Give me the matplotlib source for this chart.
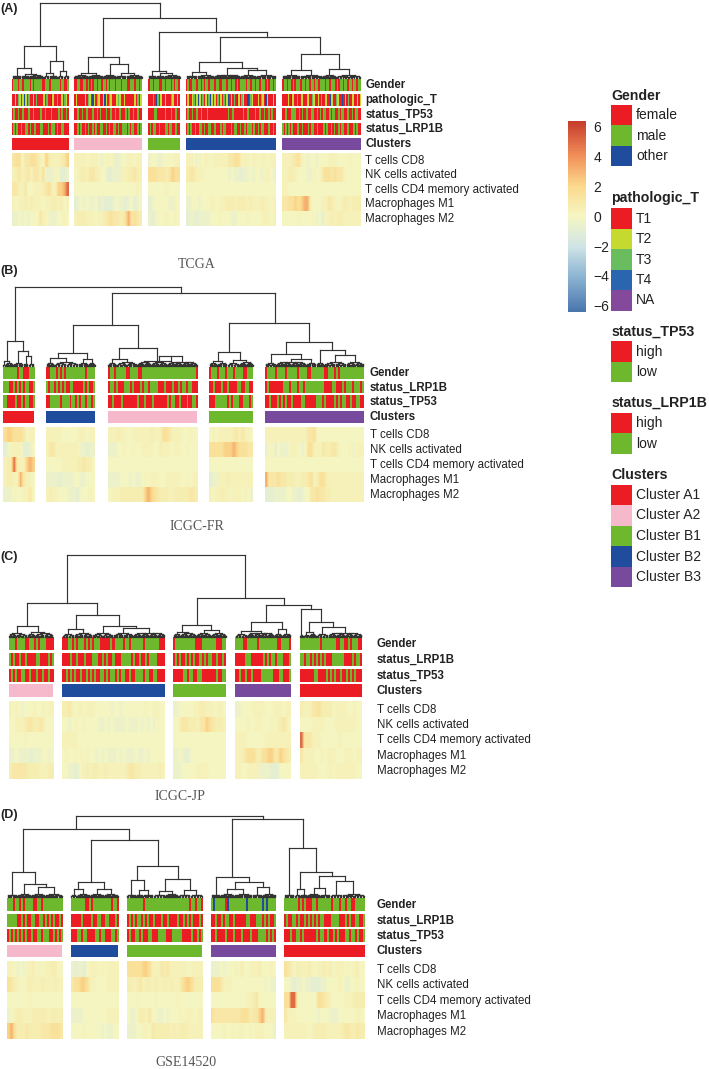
import numpy as np
import matplotlib; matplotlib.use('Agg')
import matplotlib.pyplot as plt
from matplotlib.colors import LinearSegmentedColormap, Normalize, to_rgb
from matplotlib.colorbar import ColorbarBase
from matplotlib.collections import LineCollection
from matplotlib.patches import Rectangle

plt.rcParams['font.family'] = ['Liberation Sans', 'DejaVu Sans']

# ── DATA ─────────────────────────────────────────────────────
HEAT_ROWS = ['T cells CD8', 'NK cells activated', 'T cells CD4 memory activated',
             'Macrophages M1', 'Macrophages M2']
# heat digits -> expression z score, annotation letters -> colour
HEAT_LEVELS = [-0.9, -0.5, 0.0, 0.3, 0.6, 1.0, 1.45, 2.2, 3.1, 5.0]

A_CLUSTERS = ['Cluster A1', 'Cluster A2', 'Cluster B1', 'Cluster B2', 'Cluster B3']
B_CLUSTERS = ['Cluster A1', 'Cluster B2', 'Cluster A2', 'Cluster B1', 'Cluster B3']
C_CLUSTERS = ['Cluster A2', 'Cluster B2', 'Cluster B1', 'Cluster B3', 'Cluster A1']
D_CLUSTERS = ['Cluster A2', 'Cluster B2', 'Cluster B1', 'Cluster B3', 'Cluster A1']

A_GENDER = ['RGGGRGGRGGGGRGRGGGGGRRGGGRGGGGGGRGGRRG',
            'RRGGRRGGRGRGRGGRGGRGGRGRGGGRGGGRGGGRRGGGRGGRG',
            'RGGRGGGRRGGRGGGRGRGGR',
            'RGRRGGGRGGRGRGGRGGGRGGRRGGGRGGRGGRGRGGGGRGGRGGRGGRGGGRGRGGRG',
            'RGGRGGRGRGGGRGGRGGRGGRGGRGGGRGGRGGGRGRGGRGGRGGRGGRGG']
A_PATHT = ['RRYRgYRYBYRgRRYRgRRRRYRgRRBYRRgRRYRgYR',
           'RYRRRRRYRgYRBYRgYRRYBYRgYRRRYgYRRYRRRRRRYRgRY',
           'RRRgRBgRYRRYRRRgYRRYR',
           'RYRRYgRYBYRgRYRgBYRYRgRYRgRYBRYRgRBYRgYRRBRgYRRRYRgYRBYRRRYR',
           'RRRRYRBYRRgRRYRRRYRRgYRRYRgRRYRRBYRRgYRRBRYRgRRYRRYRY']
A_TP53 = ['RGRRGRRGRRRGRRGRRRRGRRGRRRGRRRRGRGRRGR',
          'RRGRRGRRGRRRGRRGRGRRRGRRGRRGRRGRRRGRGRRGRRGRR',
          'RRRRGGRRRRRGRRRGRRGRR',
          'RGRRGRRGRRGRRRGRRRRRRRRRRRRRGRRGRRRRRRGRRGRRRRGRRGRRGRRGRGRR',
          'RRGRRRGGGRRGRGRRGRRGGRRGRGRGGRRGRGGRRGRGGRRGRRGRGGRR']
A_LRP1B = ['RGRGRRGRRGGRGRRGRRRGGRRRGRGGGRGRRGGRRR',
           'RRGRGRRGRGRRGRGRRGGRRGRGRRGGRGRRGGGRGRGGRRGRG',
           'RGRGGRRGRRRGGRGGRRGRR',
           'RGRGRRGRRGGRGRRGGRRGRRRGRGGRRRGRGGRRGRRGRGGGRGRRGRGGRRRGRRGR',
           'GRGRGRGRRRGRRGRRRGRGGRRGRRRGRGRRGRGRRGRGGRRGRRRGRGRR']
A_HEAT = [['5662556653274333457', '3453453553611132001', '5533522333456337789',
           '3233434333233443423', '1121212225331112232'],
          ['33332333212323012233233', '23443554322001113344543', '22222222222222222222232',
           '01212112010001211012012', '34443332334565544685654'],
          ['12211222233', '66655545766', '22222232222', '01222221132', '10122232232'],
          ['333132332333335566333233233233', '455333222222221211011212213321',
           '222222222222222222222222222222', '113212223323344434443433343323',
           '011011112223222112223222233323'],
          ['33345632122122233322223222', '33443222113225665655322222',
           '33222222222222222222222222', '55667678832223354323443444',
           '22222322223120334344333333']]

B_GENDER = ['GGGGGGGRGGRRRGGG', 'RRGGGRGRGRGGGGGGGGGGRGGGG',
            'RGGRGGGGGRRGGGGRRGGGGGGGGGGGGGGGGGGGGGGGGGGGR',
            'RGGGRGGGRGGGRGGGGRRGGG',
            'RGGGGRGGGGRGGGGGRGGGGRRGGGGGGRRGGGRGRGGGGGGGGGGGG']
B_LRP1B = ['GGGRRGRGRGRGGRRG', 'GRGGRGRGRGRRGGRRRRRGRGRRG',
           'RGGRGRRRGGGRGRRRGRGGRGGGGRRRGRRRGRRGRGGRGGRRR',
           'RRGRRRGRRGRRRRGGRRGGRR',
           'RGRRRRRRRGGGRGGGRGGRGGGGGGGGGRRRRGGRRRGRGGGRGGGRG']
B_TP53 = ['GGRRRRGRRGRGGRRG', 'RRGGGGGRGGGGRGGRGRGGRGGRG',
          'RRGRRRRGRRRRRRRGRRRGRRRGRRRRRRRGRGGRRGRRRGRRGGR',
          'RRRGGGGGGRGRGGGRRGGGRG',
          'RRGRRRGRGRGRRGRRRRGGRRRRRGGGRGRRRRGRGRGGRRGRRGGRR']
B_HEAT = [['6776665233', '0133330012', '3449433787', '3443385332', '1113223352'],
          ['3333322222333233', '3553333333311011', '2222233333445442',
           '1111011112211222', '3433222111022232'],
          ['333433223333334333665333322322', '111223223223333224333233223222',
           '222222222222222222222222222222', '111122212112323332233333223233',
           '233344444444787654443344444554'],
          ['232333334535332', '666667778766655', '222222222222222',
           '011333433333333', '323343323332321'],
          ['333333333333335562222222222222222', '123021113332126633354455322231333',
           '222222222222222222222222222222222', '855565544433445634664333333333333',
           '000111122110122556554433333333333']]

C_GENDER = ['GGGRGGGGRRGGRGRGGGRRRR',
            'RRRGGRGRGGGRGRGRGGGRRRRRGRGGGGRGGRGGGGGGRGGGGGGGRRR',
            'RGGGGGGGGGGRRRGGGGGGGRRRGG', 'GGGGRRGGGGGRGGGGGGGGGRRGGGGR',
            'GGGGGGGGGGRGGGGGGGRRGGRRGRGGGRR']
C_LRP1B = ['GRGRRGRRGRRRRGGRRRRGRG',
           'RRRRGRRGRRRGRRRGGGRRGRGRRGRRRGGGGGRGRRGRRGRGGGGRRRR',
           'RGRGRRGRGRGRRGRGRGGRRGRRGR', 'RRRRRGGGRRRRRRGRGRGGRGGGRRRG',
           'GGRGGRGRGRGRGRRRGGGGGGRRRRGRGGR']
C_TP53 = ['RGRGRRGGRRGRRGRRGRRGRR',
          'RRGRGRGRRGRRGRGRGRRGGRGRGGRGRGGRRGRRGGGGRGGRRGGRRRR',
          'RRRRRGGRGGRRGGRRRRRRRGRRGG', 'RRGRRGRRGRRRRGGGGGGRRRGGRRRG',
          'RRRRRRRGGRRRRGRGRGRRGRRGRGRGRRR']
C_HEAT = [['323212223223233', '223334554454222', '222223222222222',
           '112111101112212', '455555444433344'],
          ['4453233233322222122122222223223322', '2212322322221121211112111212121322',
           '3333322222222222222222222222222222', '2322323232212121112121112112122222',
           '2211013343443343333334554433333343'],
          ['112222233443332332', '224554443557654443', '222222222222222222',
           '112101222222222222', '111222223333222222'],
          ['1122223333222333233', '2222322332223234542', '3333222222333333333',
           '3335666446677557654', '3322333311110002222'],
          ['433355644442333322322', '222233332222333333322', '955533322222232222222',
           '533332232333222333233', '333333222332333333322']]

D_GENDER = ['GGGRGGRGRGGGGRRGGRGGGGGGGGGG', 'GGGGGGGRRGRGGGGGGGGGRGGR',
            'GGGGGGGGRGGGGGGGGGGGGGGGGGGGGGGRGGRGGR',
            'GBGGGGGRBGGGGGGGGBGGGGGGGBGBGGGG',
            'GGGGGGGRGRGRRRGGRGGGGGGRGGGRGGRGGRRGGGGG']
D_LRP1B = ['GGGGGRRGRGRRGGRRGGRGRGRGRRGR', 'RRRRRGRRRRGRRGGRRGGRRRGR',
           'RGRGRGGRGRGRRGRRRGRRGRRRRGRRGRGRGRRRGR',
           'RRGRRGRGGRRGRRRRRGGRRRGGGRGRGRRG',
           'RGRRGGRGRRGRGRGRGRGGRRRGGGGRRRGRGRRGGRRG']
D_TP53 = ['RGRGRGRGRGRRGRRGGRGGGRRGRGRG', 'RRRGGRGGRRRRGGRGGRRRGGRG',
          'RGRRGGRGRRRGGRRRGGGGRRRGGGGGRRRRRGRRGRG',
          'RRGRRRRGRRRGRRRGRRRGRRRGGGGRGRGR',
          'RRRGRRGGRGRRRRRRGRGGRGRRGRGRRRGGRGGRGRRG']
D_HEAT = [['332121334232334422', '654322343334333433', '222222232222222222',
           '123443334444434434', '786444544445556665'],
          ['1011023332323333', '5667763322223333', '2222222222222222',
           '1111222222223333', '2222322222121122'],
          ['6666677633354533333323333', '4434534434334343346776444',
           '2223222223222222322222222', '2113443522112122232333233',
           '1112233254444434344433333'],
          ['1112122232422333422232', '6665333222222222221211', '2222222222223345222222',
           '6555555555666455784333', '2222322323322323332221'],
          ['654243334323343423332323422', '221011211000112222331122322',
           '669932222226654322223334444', '533322222221222111222222332',
           '333333332344443333345544544']]

# dendrograms: (merge height, left, right); in the *_TREES a bare number is the
# width of a small tip cluster, in *_TOP a bare number is the cluster index
A_TREES = [(32, (10, 9, (4, 8, 14)), (17, (5, 6, 8), (7, 6, 6))),
           (21, (5, 14, 15), (14, 13, (5.5, 10, 16))),
           (7, 8, (5, 8, 16)),
           (16, (6.5, 11, 17), (10.5, (3, 13, 13), (8, 16, 20))),
           (24, (8, 18, 22), (9, 14, 25))]
A_TOP = (75.5, 0, (60, 1, (46, 2, (41, 3, 4))))
B_TREES = [(24.5, (4.5, 3, 7.5), (15, 10, (9.5, 5, 6))),
           (13, (7.5, 8, 24), (7, 10, 7)),
           (17.5, (7, 9, 20.5), (5, 14, (9.5, 16, 30))),
           (14, (5, 8, 10), (5.5, 12, 14)),
           (23.5, (12, 11, (7, 30, 10)), (15.5, 8, (10.5, 22, 17.7)))]
B_TOP = (79, 0, (73, (41, 1, 2), (42.5, 3, 4)))
C_TREES = [(11, (4, 7, 11.3), (4.5, 8, 18)),
           (22, (8, 12, 18), (10.5, 21, (8.5, 20, 31.7))),
           (12, (5, 7, 15.7), (7, 15, 15)),
           (15, (6, 12, 27), (7.5, 8, 8.7)),
           (28, 3.6, (15, (5, 6, 6.7), (10, 12, 33.7)))]
C_TOP = (81.5, (33.5, 0, 1), (38.5, 2, (32, 3, 4)))
D_TREES = [(25, 10, (12.7, 14, (9.7, 14, 17.3))),
           (15, (8, 6, 13), (8, 14, 14.3)),
           (30.7, (17, 9, (7, 7, 10.3)), (18.3, (6, 12, 13), (7, 12, 12.3))),
           (19.7, 9, (15, (8, 14, 18), (10, 10, 13.7))),
           (48.7, 10, (24.7, (8, 6, 7), (21, (9, 13, 10), (16, 12, 22.7))))]
D_TOP = (81, (68, 0, (57.3, 1, 2)), (78.3, 3, 4))

GENDER_NAMES = ['female', 'male', 'other']
PATHT_NAMES = ['T1', 'T2', 'T3', 'T4', 'NA']
STATUS_NAMES = ['high', 'low']
CLUSTER_NAMES = ['Cluster A1', 'Cluster A2', 'Cluster B1', 'Cluster B2', 'Cluster B3']
CBAR_TICKS = [-6, -4, -2, 0, 2, 4, 6]

# ── STYLE ────────────────────────────────────────────────────
RED, GREEN, BLUE = '#ec1c24', '#6db82c', '#1f4c9c'
LETTERS = {'R': RED, 'G': GREEN, 'B': BLUE, 'Y': '#c6d92e', 'g': '#6abd5e', 'N': '#84499b'}
T4_BLUE = '#2a66b0'
CLUSTER_COL = {'Cluster A1': RED, 'Cluster A2': '#f6b9cb', 'Cluster B1': GREEN,
               'Cluster B2': BLUE, 'Cluster B3': '#784a9e'}
CMAP = LinearSegmentedColormap.from_list('heat', [
    (0.0, '#4a76ae'), (0.19, '#8fb6d3'), (0.34, '#cfe4e6'), (0.5, '#f5f6c2'),
    (0.66, '#fbd98c'), (0.81, '#f2935a'), (1.0, '#c63a2c')])
NORM = Normalize(-6.4, 6.4)
LINE = '#333333'
TXT = '#222222'

fig = plt.figure(figsize=(7.09, 10.69), dpi=100)
ax = fig.add_axes([0, 0, 1, 1])
ax.axis('off')


def strip(x0, x1, y0, y1, code):
    rgb = np.array([[to_rgb(LETTERS[c]) for c in code]])
    ax.imshow(rgb, extent=(x0, x1, y1, y0), aspect='auto', interpolation='nearest')


def heat_cell(x0, x1, y0, y1, code):
    vals = np.array([[HEAT_LEVELS[int(c)] for c in code]])
    ax.imshow(vals, extent=(x0, x1, y1, y0), aspect='auto', cmap=CMAP, norm=NORM,
              interpolation='bilinear')


def draw_tree(top, trees, groups, base):
    """Dendrogram: node x is the mean of its children in sample space, then the
    sample position is mapped to pixels with the gaps between clusters."""
    widths = [g[1] - g[0] for g in groups]
    starts = np.concatenate([[0], np.cumsum(widths)])
    segs = []

    def to_x(s):
        i = min(np.searchsorted(starts, s, side='right') - 1, len(groups) - 1)
        return groups[i][0] + (s - starts[i])

    def merge(h, a, b):
        xa, xb = to_x(a[0]), to_x(b[0])
        segs.append([(xa, base - a[1]), (xa, base - h)])
        segs.append([(xb, base - b[1]), (xb, base - h)])
        segs.append([(xa, base - h), (xb, base - h)])
        return (a[0] + b[0]) / 2, h

    def comb(s0, w):
        # tips of a small cluster, too fine to read one by one
        if w < 1.6:
            return s0 + w / 2, 0.0
        a, b = comb(s0, w / 2), comb(s0 + w / 2, w / 2)
        return merge(max(a[1], b[1]) + 0.8, a, b)

    def walk(node, s0):
        if not isinstance(node, tuple):
            return comb(s0, node), s0 + node
        a, s1 = walk(node[1], s0)
        b, s2 = walk(node[2], s1)
        return merge(node[0], a, b), s2

    def walk_top(node):
        if not isinstance(node, tuple):
            return walk(trees[node], starts[node])[0]
        return merge(node[0], walk_top(node[1]), walk_top(node[2]))

    walk_top(top)
    ax.add_collection(LineCollection(segs, colors=LINE, linewidths=0.85, capstyle='projecting'))


def draw_panel(letter, letter_y, caption, cap_x, cap_y, groups, base, top, trees,
               ann_names, ann_data, ann_y, clusters, clus_y, heat, heat_y, label_x):
    ax.text(0, letter_y, letter, fontsize=9, fontweight='bold', color=TXT, va='center')
    ax.text(cap_x, cap_y, caption, fontsize=10, family='Liberation Serif', color='#555555',
            ha='center', va='center')
    draw_tree(top, trees, groups, base)
    for name, data, (y0, y1) in zip(ann_names, ann_data, ann_y):
        for (x0, x1), code in zip(groups, data):
            strip(x0, x1, y0, y1, code)
        ax.text(label_x, (y0 + y1) / 2, name, fontsize=8.3, fontweight='bold', color=TXT, va='center')
    y0, y1 = clus_y
    for (x0, x1), name in zip(groups, clusters):
        ax.add_patch(Rectangle((x0, y0), x1 - x0, y1 - y0, fc=CLUSTER_COL[name], ec='none'))
    ax.text(label_x, (y0 + y1) / 2, 'Clusters', fontsize=8.3, fontweight='bold', color=TXT, va='center')
    edges = np.linspace(heat_y[0], heat_y[1], len(HEAT_ROWS) + 1)
    for r, name in enumerate(HEAT_ROWS):
        for (x0, x1), rows in zip(groups, heat):
            heat_cell(x0, x1, edges[r], edges[r + 1], rows[r])
        ax.text(label_x, (edges[r] + edges[r + 1]) / 2, name, fontsize=8.3, color=TXT, va='center')


draw_panel('(A)', 9, 'TCGA', 197, 265,
           [(12, 69), (74, 142), (148, 180), (186, 276), (282, 361)], 78, A_TOP, A_TREES,
           ['Gender', 'pathologic_T', 'status_TP53', 'status_LRP1B'],
           [A_GENDER, A_PATHT, A_TP53, A_LRP1B],
           [(79.5, 91.5), (94, 106), (108.5, 120.5), (123, 135)],
           A_CLUSTERS, (138, 149.5), A_HEAT, (153.5, 226), 365.3)
draw_panel('(B)', 271, 'ICGC-FR', 197, 526,
           [(2.5, 34), (46, 95), (107.5, 197), (209, 253), (265, 363.7)], 365.5, B_TOP, B_TREES,
           ['Gender', 'status_LRP1B', 'status_TP53'],
           [B_GENDER, B_LRP1B, B_TP53],
           [(366.7, 378.7), (381.3, 393.3), (396, 408.3)],
           B_CLUSTERS, (411, 423.3), B_HEAT, (427.3, 502), 370)
draw_panel('(C)', 556.7, 'ICGC-JP', 180, 796,
           [(8.7, 53), (62, 164.7), (173.3, 226), (235, 290.7), (299.7, 361.7)], 636.5, C_TOP, C_TREES,
           ['Gender', 'status_LRP1B', 'status_TP53'],
           [C_GENDER, C_LRP1B, C_TP53],
           [(637.7, 650.3), (653.3, 666), (669, 681.7)],
           C_CLUSTERS, (684.3, 697), C_HEAT, (702, 779), 376.7)
draw_panel('(D)', 815, 'GSE14520', 186, 1063,
           [(7, 62.3), (70.7, 118), (126.7, 202.3), (211, 275.7), (284, 364.7)], 897, D_TOP, D_TREES,
           ['Gender', 'status_LRP1B', 'status_TP53'],
           [D_GENDER, D_LRP1B, D_TP53],
           [(898.7, 911), (914, 926.7), (929.3, 942)],
           D_CLUSTERS, (944.7, 957.3), D_HEAT, (962, 1039.3), 376.7)


# ── LEGENDS ──────────────────────────────────────────────────
def legend_block(title, title_y, names, colors, y0, y1):
    ax.text(611.5, title_y, title, fontsize=10.2, fontweight='bold', color=TXT, va='center')
    edges = np.linspace(y0, y1, len(names) + 1)
    for i, (n, c) in enumerate(zip(names, colors)):
        ax.add_patch(Rectangle((611.3, edges[i]), 20.4, edges[i + 1] - edges[i], fc=c, ec='none'))
        ax.text(636, (edges[i] + edges[i + 1]) / 2, n, fontsize=10, color=TXT, va='center')


legend_block('Gender', 95.7, GENDER_NAMES, [RED, GREEN, BLUE], 105.3, 165.7)
legend_block('pathologic_T', 198, PATHT_NAMES,
             [RED, LETTERS['Y'], LETTERS['g'], T4_BLUE, LETTERS['N']], 208.3, 310.7)
legend_block('status_TP53', 331.7, STATUS_NAMES, [RED, GREEN], 341.3, 382.3)
legend_block('status_LRP1B', 403, STATUS_NAMES, [RED, GREEN], 412.7, 454)
legend_block('Clusters', 475, CLUSTER_NAMES, [CLUSTER_COL[n] for n in CLUSTER_NAMES], 484.7, 587.3)

ax.set_xlim(0, 709)
ax.set_ylim(1069, 0)

cax = fig.add_axes([568.3 / 709, 1 - 311.7 / 1069, 17.7 / 709, 191 / 1069])
cb = ColorbarBase(cax, cmap=CMAP, norm=NORM, ticks=CBAR_TICKS)
cb.outline.set_visible(False)
cb.ax.tick_params(length=0, pad=5.5, labelsize=10, labelcolor=TXT)

fig.savefig('out.png', dpi=100)
